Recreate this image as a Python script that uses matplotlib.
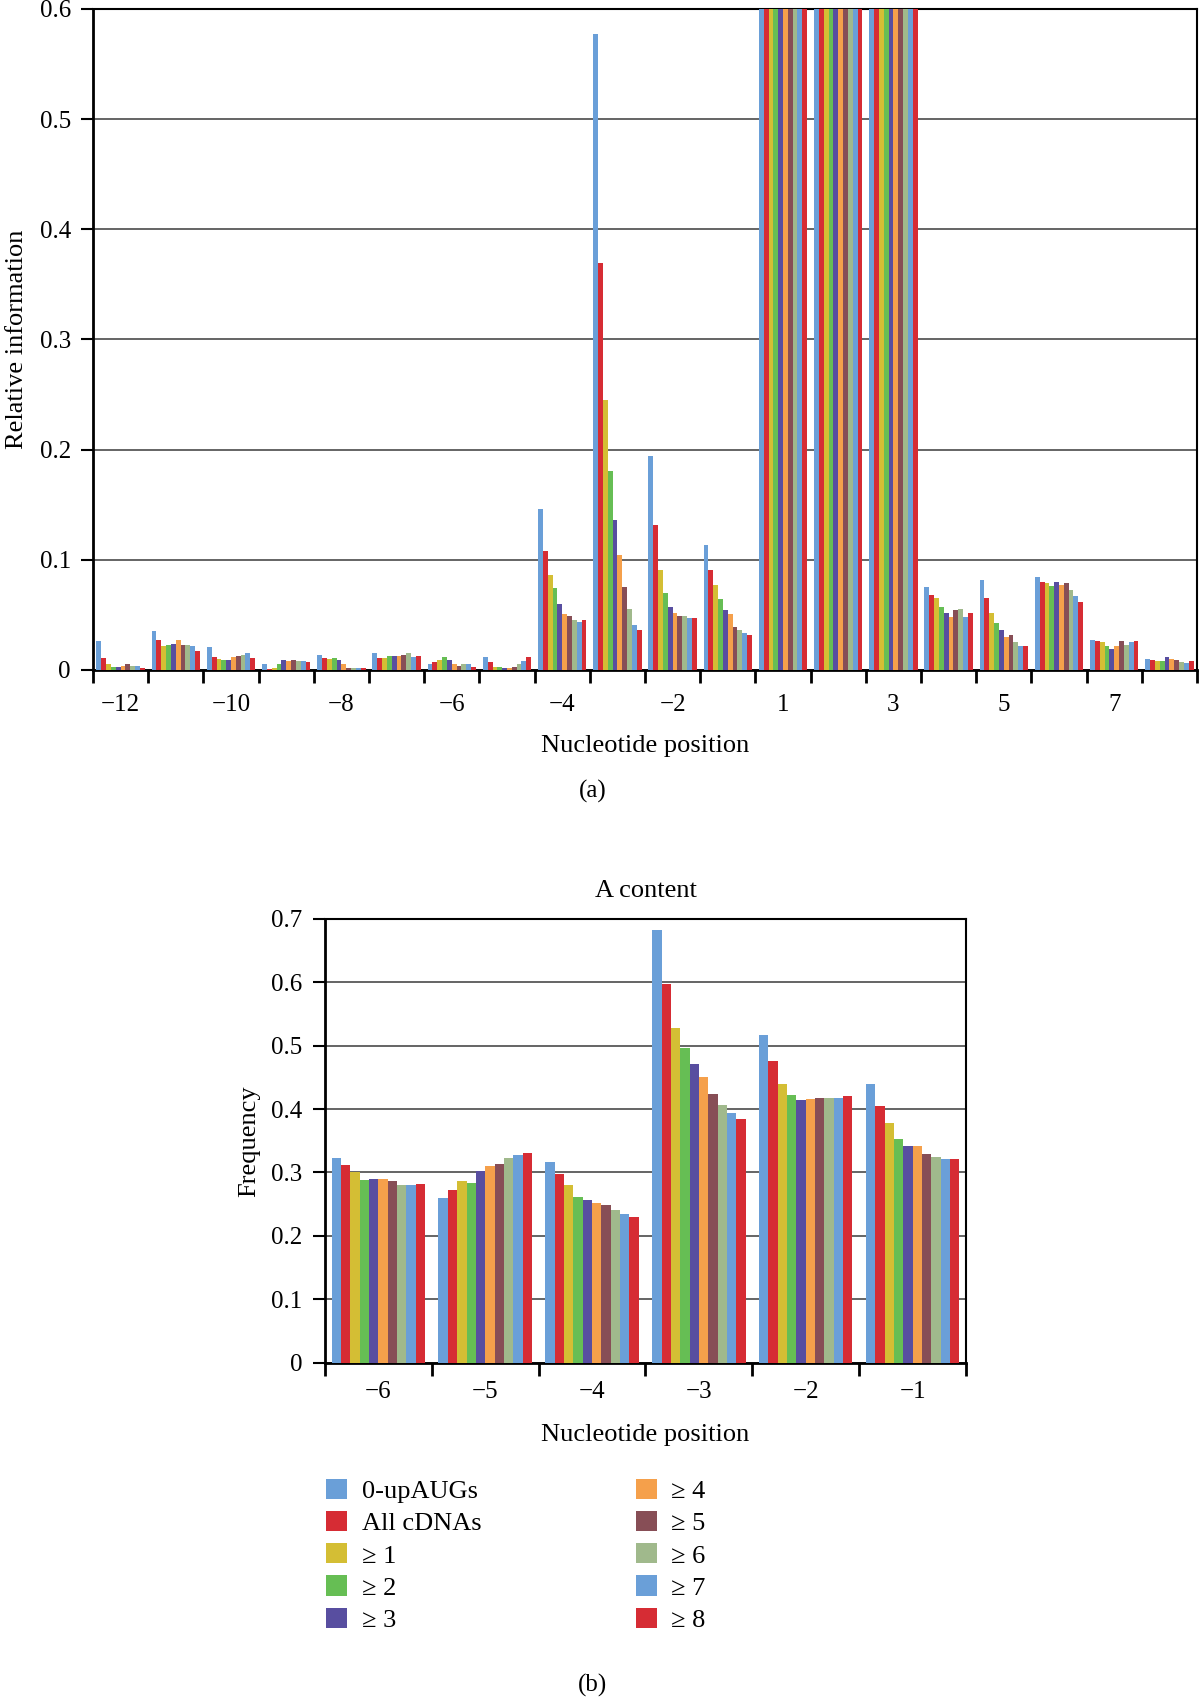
import numpy as np
import matplotlib.pyplot as plt
from matplotlib.patches import Patch

plt.rcParams['font.family'] = ['Liberation Serif', 'DejaVu Serif']

series = ['0-upAUGs', 'All cDNAs', '≥ 1', '≥ 2', '≥ 3', '≥ 4', '≥ 5', '≥ 6', '≥ 7', '≥ 8']
colors = ['#6A9FD8', '#D62C34', '#D4BE34', '#66BE54', '#584EA0',
          '#F5A04B', '#874E56', '#A0B98C', '#6A9FD8', '#D62C34']

# panel (a): relative information, positions -12..-1, 1..8
pos_a = ['−12', '−11', '−10', '−9', '−8', '−7', '−6', '−5', '−4', '−3', '−2', '−1',
         '1', '2', '3', '4', '5', '6', '7', '8']
a_up0 = [.026, .035, .021, .005, .014, .015, .005, .012, .146, .577, .194, .113, 1, 1, 1, .075, .082, .084, .027, .010]
a_all = [.011, .027, .012, .0005, .011, .011, .007, .007, .108, .369, .132, .091, 1, 1, 1, .068, .065, .080, .026, .009]
a_ge1 = [.005, .022, .010, .002, .010, .011, .009, .003, .086, .245, .091, .077, 1, 1, 1, .065, .052, .079, .025, .0085]
a_ge2 = [.003, .023, .009, .005, .011, .013, .012, .003, .074, .181, .070, .064, 1, 1, 1, .057, .043, .076, .022, .0085]
a_ge3 = [.003, .024, .009, .009, .009, .013, .009, .002, .060, .136, .057, .054, 1, 1, 1, .052, .036, .080, .019, .012]
a_ge4 = [.004, .027, .012, .008, .005, .013, .005, .002, .051, .104, .052, .051, 1, 1, 1, .048, .030, .077, .022, .010]
a_ge5 = [.005, .023, .013, .009, .002, .014, .004, .003, .049, .075, .049, .039, 1, 1, 1, .054, .032, .079, .026, .009]
a_ge6 = [.004, .023, .014, .008, .002, .015, .005, .005, .045, .055, .049, .036, 1, 1, 1, .055, .025, .073, .023, .007]
a_ge7 = [.004, .022, .015, .008, .002, .012, .005, .008, .044, .041, .047, .034, 1, 1, 1, .048, .022, .067, .025, .006]
a_ge8 = [.002, .017, .011, .007, .002, .013, .003, .012, .045, .036, .047, .032, 1, 1, 1, .052, .022, .062, .026, .0085]

# panel (b): A content frequency, positions -6..-1
pos_b = ['−6', '−5', '−4', '−3', '−2', '−1']
b_up0 = [.323, .259, .317, .682, .517, .440]
b_all = [.311, .273, .297, .597, .475, .405]
b_ge1 = [.300, .287, .280, .528, .439, .378]
b_ge2 = [.288, .284, .261, .496, .422, .353]
b_ge3 = [.290, .302, .256, .471, .415, .341]
b_ge4 = [.290, .310, .252, .450, .416, .341]
b_ge5 = [.287, .314, .248, .424, .418, .329]
b_ge6 = [.280, .323, .240, .406, .417, .324]
b_ge7 = [.280, .328, .235, .394, .417, .321]
b_ge8 = [.281, .330, .229, .384, .420, .321]

data_a = [a_up0, a_all, a_ge1, a_ge2, a_ge3, a_ge4, a_ge5, a_ge6, a_ge7, a_ge8]
data_b = [b_up0, b_all, b_ge1, b_ge2, b_ge3, b_ge4, b_ge5, b_ge6, b_ge7, b_ge8]

FS = 18
fig = plt.figure(figsize=(12, 16.97), dpi=100)


def grouped(ax, data, labels, label_every, ymax, yticks, xpad):
    n = len(labels)
    bw = 0.875 / len(data)
    x = np.arange(n)
    for i, vals in enumerate(data):
        ax.bar(x - 0.4375 + bw * (i + 0.5), vals, width=bw, color=colors[i],
               linewidth=0, zorder=3)
    ax.set_xlim(-0.5, n - 0.5)
    ax.set_ylim(0, ymax)
    ax.set_yticks(yticks)
    ax.set_yticklabels(['0'] + ['%.1f' % t for t in yticks[1:]], fontsize=FS)
    ax.yaxis.grid(True, color='#4a4a4a', linewidth=1.2, zorder=0)
    ax.set_axisbelow(True)
    # boundary ticks, labels at group centres
    ax.set_xticks(np.arange(-0.5, n, 1.0))
    ax.set_xticklabels([])
    ax.tick_params(axis='x', which='major', length=9, width=2, direction='out')
    centres = x[::label_every]
    ax.set_xticks(centres, minor=True)
    ax.set_xticklabels(labels[::label_every], minor=True, fontsize=FS)
    ax.tick_params(axis='x', which='minor', length=0, pad=xpad)
    ax.tick_params(axis='y', length=9, width=1.5, direction='out', pad=7)
    for s in ax.spines.values():
        s.set_color('black')
        s.set_linewidth(1.5)
    ax.spines['left'].set_linewidth(2)
    ax.spines['bottom'].set_linewidth(2)


ax1 = fig.add_axes([0.0775, 0.6052, 0.92, 0.3895])
grouped(ax1, data_a, pos_a, 2, 0.6, [0, 0.1, 0.2, 0.3, 0.4, 0.5, 0.6], 17)
ax1.set_ylabel('Relative information', fontsize=FS + 1, labelpad=8)
ax1.set_xlabel('Nucleotide position', fontsize=FS + 1, labelpad=14)
fig.text(0.494, 1 - 791 / 1697, '(a)', ha='center', va='center', fontsize=FS)

ax2 = fig.add_axes([0.2708, 0.197, 0.5342, 0.2616])
grouped(ax2, data_b, pos_b, 1, 0.7, [0, 0.1, 0.2, 0.3, 0.4, 0.5, 0.6, 0.7], 13)
ax2.set_ylabel('Frequency', fontsize=FS + 1, labelpad=8)
ax2.set_xlabel('Nucleotide position', fontsize=FS + 1, labelpad=15)
ax2.set_title('A content', fontsize=FS + 1, pad=16)
fig.text(0.494, 1 - 1685 / 1697, '(b)', ha='center', va='center', fontsize=FS)

handles = [Patch(facecolor=c, edgecolor='none') for c in colors]
fig.legend(handles, series, loc='upper left', bbox_to_anchor=(0.252, 0.1425),
           ncol=2, frameon=False, fontsize=FS + 1, handlelength=0.8,
           handleheight=0.8, handletextpad=0.55, labelspacing=0.3,
           columnspacing=5.85)

fig.savefig('out.png', dpi=100, facecolor='white')
